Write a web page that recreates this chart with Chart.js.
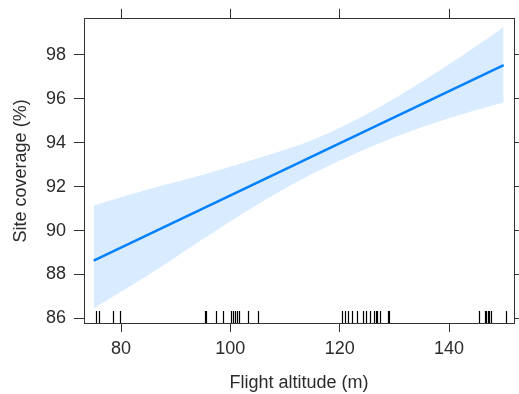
<!DOCTYPE html>
<html>
<head>
<meta charset="utf-8">
<script src="https://cdn.jsdelivr.net/npm/chart.js@4/dist/chart.umd.min.js"></script>
<style>
  html, body { margin: 0; padding: 0; background: #ffffff; }
  canvas { display: block; }
</style>
</head>
<body>
<canvas id="chart" width="519" height="394"></canvas>
<script>
// Flight altitude (m) at which the band edges are given
const bandAltitude = [75, 85, 95, 105, 115, 125, 135, 145, 150];
// Upper and lower limits of the confidence band (%)
const bandUpper = [91.14, 91.88, 92.54, 93.29, 94.12, 95.30, 96.77, 98.40, 99.27];
const bandLower = [86.45, 87.97, 89.62, 91.19, 92.58, 93.74, 94.70, 95.49, 95.83];
// Fitted site coverage (%) at the ends of the altitude range
const fitAltitude = [75, 150];
const fitCoverage = [88.63, 97.53];
// Observed flight altitudes, shown as a rug along the bottom axis
const observedAltitude = [
  75.4, 75.9, 78.5, 79.8,
  95.3, 95.6, 97.3, 98.6, 100.1, 100.4, 100.9, 101.3, 101.6, 103.2, 105.0,
  120.4, 121.0, 121.6, 122.2, 123.1, 124.3, 124.9, 125.6, 126.2, 126.6, 126.9, 127.3, 128.8, 129.1,
  145.4, 146.5, 146.8, 147.1, 147.4, 147.7, 150.4
];
// Tick labels
const xTickValues = [80, 100, 120, 140];
const yTickValues = [86, 88, 90, 92, 94, 96, 98];

const FONT = { family: '"Liberation Sans", Arial, sans-serif', size: 18 };
const INK = '#2b2b2b';
const AXIS = '#333333';

const pairs = (xs, ys) => xs.map((x, i) => ({ x: x, y: ys[i] }));
const fixedTicks = values => scale => { scale.ticks = values.map(v => ({ value: v })); };

// Short vertical marks at each observed altitude, rising from the bottom axis
const rugPlugin = {
  id: 'rug',
  afterDatasetsDraw(chart) {
    const xs = chart.scales.x;
    const area = chart.chartArea;
    const ctx = chart.ctx;
    ctx.save();
    ctx.strokeStyle = '#000000';
    ctx.lineWidth = 1.2;
    ctx.beginPath();
    observedAltitude.forEach(v => {
      const px = Math.round(xs.getPixelForValue(v)) + 0.5;
      ctx.moveTo(px, area.bottom);
      ctx.lineTo(px, area.bottom - 12);
    });
    ctx.stroke();
    ctx.restore();
  }
};

const gridOpts = (len) => ({
  drawOnChartArea: false,
  drawTicks: true,
  tickLength: len,
  color: AXIS,
  lineWidth: 1
});

new Chart(document.getElementById('chart'), {
  type: 'line',
  data: {
    datasets: [
      {
        label: 'upper',
        data: pairs(bandAltitude, bandUpper),
        borderWidth: 0,
        pointRadius: 0,
        backgroundColor: 'rgba(0,128,255,0.15)',
        fill: '+1',
        cubicInterpolationMode: 'monotone'
      },
      {
        label: 'lower',
        data: pairs(bandAltitude, bandLower),
        borderWidth: 0,
        pointRadius: 0,
        fill: false,
        cubicInterpolationMode: 'monotone'
      },
      {
        label: 'fit',
        data: pairs(fitAltitude, fitCoverage),
        borderColor: '#0080ff',
        borderWidth: 2.5,
        pointRadius: 0,
        fill: false
      }
    ]
  },
  options: {
    responsive: false,
    animation: false,
    devicePixelRatio: 1,
    layout: { padding: 0 },
    plugins: { legend: { display: false }, tooltip: { enabled: false } },
    scales: {
      x: {
        type: 'linear',
        position: 'bottom',
        min: 73.23,
        max: 151.89,
        afterBuildTicks: fixedTicks(xTickValues),
        afterFit: s => { s.height = 71; },
        grid: gridOpts(9),
        border: { display: true, color: AXIS, width: 1 },
        ticks: { font: FONT, color: INK, padding: 6, maxRotation: 0 },
        title: {
          display: true,
          text: 'Flight altitude (m)',
          font: FONT,
          color: INK,
          padding: { top: 0, bottom: 0 }
        }
      },
      xTop: {
        type: 'linear',
        position: 'top',
        min: 73.23,
        max: 151.89,
        afterBuildTicks: fixedTicks(xTickValues),
        afterFit: s => { s.height = 18; },
        grid: gridOpts(10),
        border: { display: true, color: AXIS, width: 1 },
        ticks: { display: false }
      },
      y: {
        type: 'linear',
        position: 'left',
        min: 85.79,
        max: 99.64,
        afterBuildTicks: fixedTicks(yTickValues),
        afterFit: s => { s.width = 84; },
        grid: gridOpts(10),
        border: { display: true, color: AXIS, width: 1 },
        ticks: { font: FONT, color: INK, padding: 8 },
        title: {
          display: true,
          text: 'Site coverage (%)',
          font: FONT,
          color: INK,
          padding: { top: 10, bottom: 0 }
        }
      },
      yRight: {
        type: 'linear',
        position: 'right',
        min: 85.79,
        max: 99.64,
        afterBuildTicks: fixedTicks(yTickValues),
        afterFit: s => { s.width = 5; },
        grid: gridOpts(8),
        border: { display: true, color: AXIS, width: 1 },
        ticks: { display: false }
      }
    }
  },
  plugins: [rugPlugin]
});
</script>
</body>
</html>
